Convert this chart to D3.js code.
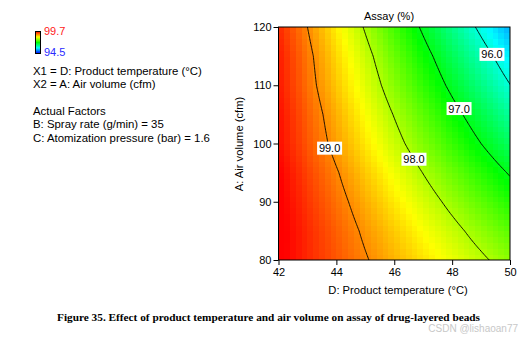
<!DOCTYPE html>
<html><head><meta charset="utf-8">
<script src="https://cdn.jsdelivr.net/npm/d3@7"></script>
<style>body{margin:0;background:#fff}svg{display:block;font-family:Arial,"Liberation Sans",sans-serif}</style>
</head><body>
<script>
// ---- data ----
const tempValues = [42, 43, 44, 45, 46, 47, 48, 49, 50];           // D: Product temperature (°C)
const airValues  = [80, 85, 90, 95, 100, 105, 110, 115, 120];      // A: Air volume (cfm)
// Assay (%); rows follow airValues, columns follow tempValues
const assayGrid = [
  [99.76, 99.51, 99.27, 99.03, 98.79, 98.55, 98.31, 98.07, 97.82], // 80
  [99.77, 99.50, 99.22, 98.94, 98.67, 98.39, 98.12, 97.84, 97.56], // 85
  [99.75, 99.44, 99.13, 98.82, 98.51, 98.20, 97.89, 97.58, 97.27], // 90
  [99.72, 99.37, 99.03, 98.68, 98.34, 97.99, 97.65, 97.30, 96.96], // 95
  [99.65, 99.27, 98.89, 98.52, 98.14, 97.76, 97.38, 97.00, 96.62], // 100
  [99.64, 99.22, 98.81, 98.39, 97.98, 97.57, 97.15, 96.74, 96.32], // 105
  [99.59, 99.14, 98.69, 98.25, 97.80, 97.35, 96.90, 96.45, 96.01], // 110
  [99.58, 99.10, 98.61, 98.13, 97.65, 97.16, 96.68, 96.20, 95.72], // 115
  [99.51, 99.00, 98.48, 97.96, 97.45, 96.93, 96.41, 95.90, 95.38]  // 120
];
const contourLevels = [96, 97, 98, 99];
const labelAir = [115.3, 106.0, 97.3, 99.2];   // air volume where each level label sits
const xTicks = [42, 44, 46, 48, 50];
const yTicks = [80, 90, 100, 110, 120];
const colorMin = 94.5, colorMax = 99.7;
const infoLines = ["X1 = D: Product temperature (°C)", "X2 = A: Air volume (cfm)", "", "Actual Factors", "B: Spray rate (g/min) = 35", "C: Atomization pressure (bar) = 1.6"];
const caption = "Figure 35. Effect of product temperature and air volume on assay of drug-layered beads";

// ---- layout ----
const W = 532, H = 340;
const L = 278.5, R = 510, T = 27, B = 260;
const SANS = "Arial, 'Liberation Sans', sans-serif";
const svg = d3.select("body").append("svg").attr("width", W).attr("height", H);

const x = d3.scaleLinear().domain([42, 50]).range([L, R]);
const y = d3.scaleLinear().domain([80, 120]).range([B, T]);
const cStops = d3.range(5).map(i => colorMin + i * (colorMax - colorMin) / 4);
const color = d3.scaleLinear().domain(cStops)
  .range(["#0000ff", "#00ffff", "#00ff00", "#ffff00", "#ff0000"]).clamp(true);

// bilinear lookup on the read grid
const ti = d3.scaleLinear().domain(d3.extent(tempValues)).range([0, tempValues.length - 1]);
const vi = d3.scaleLinear().domain(d3.extent(airValues)).range([0, airValues.length - 1]);
function field(t, v) {
  let fi = Math.max(0, Math.min(tempValues.length - 1, ti(t)));
  let fj = Math.max(0, Math.min(airValues.length - 1, vi(v)));
  let i0 = Math.min(Math.floor(fi), tempValues.length - 2), j0 = Math.min(Math.floor(fj), airValues.length - 2);
  let a = fi - i0, b = fj - j0;
  const g = assayGrid;
  return (1 - a) * (1 - b) * g[j0][i0] + a * (1 - b) * g[j0][i0 + 1] + (1 - a) * b * g[j0 + 1][i0] + a * b * g[j0 + 1][i0 + 1];
}

// heat-map cells
const nC = 40;
const cw = 8 / nC, ch = 40 / nC;
const cells = [];
for (let j = 0; j < nC; j++) for (let i = 0; i < nC; i++) {
  const t0 = 42 + i * cw, v0 = 80 + j * ch;
  cells.push({t0, v0, val: field(t0 + cw / 2, v0 + ch / 2)});
}
const defs = svg.append("defs");
defs.append("clipPath").attr("id", "clip").append("rect").attr("x", L).attr("y", T).attr("width", R - L).attr("height", B - T);

const plot = svg.append("g").attr("clip-path", "url(#clip)");
plot.selectAll("rect.cell").data(cells).join("rect")
  .attr("x", d => x(d.t0)).attr("y", d => y(d.v0 + ch))
  .attr("width", d => x(d.t0 + cw) - x(d.t0) + 0.6).attr("height", d => y(d.v0) - y(d.v0 + ch) + 0.6)
  .attr("fill", d => color(d.val)).attr("shape-rendering", "crispEdges");

// contours on a finer sampling of the field
const nx = 161, ny = 161, dT = 8 / (nx - 1), dV = 40 / (ny - 1);
const vals = new Array(nx * ny);
for (let j = 0; j < ny; j++) for (let i = 0; i < nx; i++) vals[j * nx + i] = field(42 + i * dT, 80 + j * dV);
const contours = d3.contours().size([nx, ny]).thresholds(contourLevels)(vals);
const proj = d3.geoTransform({point: function(px, py) {
  this.stream.point(x(42 + (px - 0.5) * dT), y(80 + (py - 0.5) * dV));
}});
const path = d3.geoPath(proj);
plot.selectAll("path.ct").data(contours).join("path")
  .attr("d", path).attr("fill", "none").attr("stroke", "#000").attr("stroke-width", 0.9);

// contour labels
contourLevels.forEach((lev, k) => {
  const v = labelAir[k];
  let lo = 42, hi = 50;
  for (let it = 0; it < 40; it++) { const m = (lo + hi) / 2; if (field(m, v) > lev) lo = m; else hi = m; }
  const t = (lo + hi) / 2;
  const g = svg.append("g").attr("transform", `translate(${x(t)},${y(v)})`);
  g.append("rect").attr("x", -12.5).attr("y", -6.5).attr("width", 25).attr("height", 13).attr("fill", "#fff");
  g.append("text").attr("text-anchor", "middle").attr("dy", "0.36em").style("font-size", "11px").text(lev.toFixed(1));
});

// frame
svg.append("rect").attr("x", L).attr("y", T).attr("width", R - L).attr("height", B - T)
  .attr("fill", "none").attr("stroke", "#000").attr("stroke-width", 1);

// axes
const xa = svg.append("g").attr("transform", `translate(0,${B})`)
  .call(d3.axisBottom(x).tickValues(xTicks).tickSize(5).tickSizeOuter(0).tickPadding(3).tickFormat(d3.format("d")));
const ya = svg.append("g").attr("transform", `translate(${L},0)`)
  .call(d3.axisLeft(y).tickValues(yTicks).tickSize(5).tickSizeOuter(0).tickPadding(2).tickFormat(d3.format("d")));
[xa, ya].forEach(a => {
  a.attr("font-family", null).attr("font-size", null);
  a.select(".domain").remove();
  a.selectAll("text").style("font-size", "11px").style("font-family", SANS).attr("fill", "#000");
  a.selectAll("line").attr("stroke", "#000");
});

// titles
svg.append("text").attr("x", 389).attr("y", 20).attr("text-anchor", "middle").style("font-size", "11px").text("Assay (%)");
svg.append("text").attr("x", 398).attr("y", 294).attr("text-anchor", "middle").style("font-size", "11.2px").text("D: Product temperature (°C)");
svg.append("text").attr("transform", "translate(243,144) rotate(-90)").attr("text-anchor", "middle").style("font-size", "11.2px").text("A: Air volume (cfm)");

// colour legend
const lg = defs.append("linearGradient").attr("id", "lgrad").attr("x1", 0).attr("y1", 1).attr("x2", 0).attr("y2", 0);
cStops.forEach((s, i) => lg.append("stop").attr("offset", i / 4).attr("stop-color", color(s)));
svg.append("rect").attr("x", 35.5).attr("y", 31.5).attr("width", 5).attr("height", 22)
  .attr("fill", "url(#lgrad)").attr("stroke", "#000").attr("stroke-width", 1);
svg.append("text").attr("x", 44).attr("y", 35).style("font-size", "11px").attr("fill", "#ff1a1a").text(colorMax.toFixed(1));
svg.append("text").attr("x", 44).attr("y", 56).style("font-size", "11px").attr("fill", "#2a2aff").text(colorMin.toFixed(1));

// info text
svg.append("g").selectAll("text").data(infoLines).join("text")
  .attr("x", 33).attr("y", (d, i) => 75 + i * 13.3).style("font-size", "11.4px").attr("fill", "#000").text(d => d);

// caption
svg.append("text").attr("x", 57).attr("y", 321).attr("font-weight", "bold")
  .style("font-size", "10.5px").style("font-family", "'Liberation Serif','Times New Roman',serif")
  .attr("textLength", 423).attr("lengthAdjust", "spacingAndGlyphs")
  .text(caption);
svg.append("text").attr("x", 518).attr("y", 332).attr("text-anchor", "end").style("font-size", "10px").attr("fill", "#c8c8c8").text("CSDN @lishaoan77");
</script>
</body></html>
